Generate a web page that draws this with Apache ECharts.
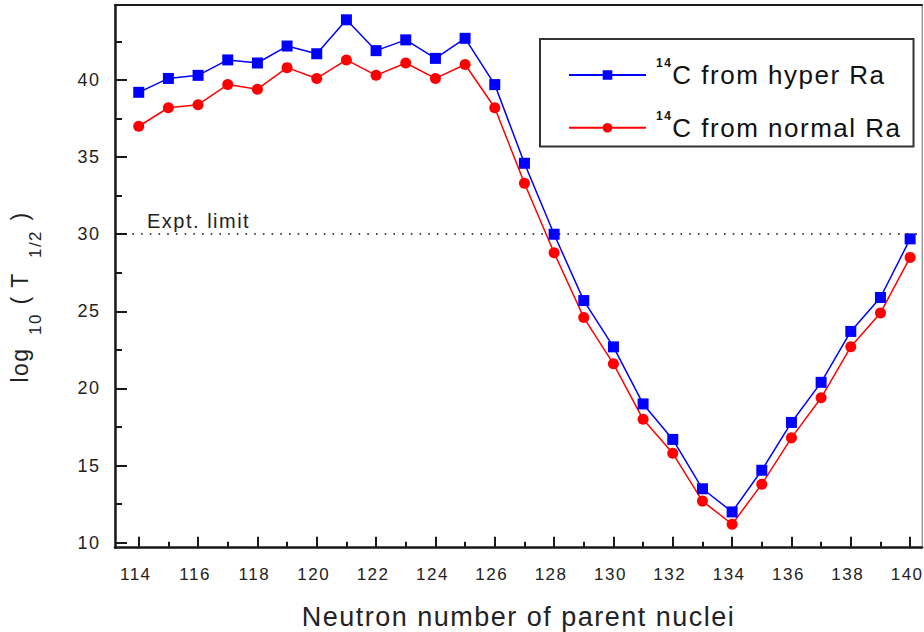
<!DOCTYPE html>
<html>
<head>
<meta charset="utf-8">
<title>14C decay half-lives of Ra isotopes</title>
<script src="https://cdn.jsdelivr.net/npm/echarts@6/dist/echarts.min.js"></script>
<style>
  html, body { margin: 0; padding: 0; background: #ffffff; }
  #chart { width: 924px; height: 632px; }
  #chart text { letter-spacing: 1.5px; }
</style>
</head>
<body>
<div id="chart"></div>
<script>
// Neutron number of the parent nucleus
const neutronNumbers = [114, 115, 116, 117, 118, 119, 120, 121, 122, 123, 124, 125, 126,
                        127, 128, 129, 130, 131, 132, 133, 134, 135, 136, 137, 138, 139, 140];
// log10(T1/2) for 14C emission from hyper Ra
const hyperRa = [39.2, 40.1, 40.3, 41.3, 41.1, 42.2, 41.7, 43.9, 41.9, 42.6, 41.4, 42.7, 39.7,
                 34.6, 30.0, 25.7, 22.7, 19.0, 16.7, 13.5, 12.0, 14.7, 17.8, 20.4, 23.7, 25.9, 29.7];
// log10(T1/2) for 14C emission from normal Ra
const normalRa = [37.0, 38.2, 38.4, 39.7, 39.4, 40.8, 40.1, 41.3, 40.3, 41.1, 40.1, 41.0, 38.2,
                  33.3, 28.8, 24.6, 21.6, 18.0, 15.8, 12.7, 11.2, 13.8, 16.8, 19.4, 22.7, 24.9, 28.5];
// Tick positions
const xMajorTicks = [114, 116, 118, 120, 122, 124, 126, 128, 130, 132, 134, 136, 138, 140];
const xMinorTicks = [115, 117, 119, 121, 123, 125, 127, 129, 131, 133, 135, 137, 139];
const yMajorTicks = [10, 15, 20, 25, 30, 35, 40];
const yMinorTicks = [12.5, 17.5, 22.5, 27.5, 32.5, 37.5, 42.5];
// Experimental limit of log10(T1/2)
const exptLimit = 30;
const seriesNames = ['14C from hyper Ra', '14C from normal Ra'];

const LETTER_SPACING = 1.5;
// Measure text with the same letter spacing the stylesheet applies to the SVG text
(function () {
  const ctx = document.createElement('canvas').getContext('2d');
  if (ctx && 'letterSpacing' in ctx && typeof echarts.setPlatformAPI === 'function') {
    ctx.letterSpacing = LETTER_SPACING + 'px';
    echarts.setPlatformAPI({
      measureText: function (text, font) {
        ctx.font = font || '12px sans-serif';
        return ctx.measureText(text);
      }
    });
  }
})();

const FONT = 'Liberation Sans';
const INK = '#1a1a1a';
const TEXT = '#222222';
const X_MIN = 113.2, X_MAX = 140.4;
const Y_MIN = 9.68, Y_MAX = 44.86;

const chart = echarts.init(document.getElementById('chart'), null, { renderer: 'svg' });

const toPoints = (ys) => neutronNumbers.map((n, i) => [n, ys[i]]);

function frameAxis(extra) {
  return Object.assign({
    type: 'value',
    splitLine: { show: false },
    axisLabel: { show: false },
    axisTick: { show: false },
    axisLine: { show: false }
  }, extra);
}

const option = {
  animation: false,
  backgroundColor: '#ffffff',
  grid: {
    left: 115, top: 5, width: 807, height: 542.7,
    outerBoundsMode: 'none', containLabel: false,
    show: true, borderColor: '#9a9a9a', borderWidth: 1
  },
  xAxis: [
    frameAxis({
      min: X_MIN, max: X_MAX, position: 'bottom',
      axisLine: { show: true, onZero: false, lineStyle: { color: INK, width: 2.5 } },
      axisTick: { show: true, inside: true, length: 11, customValues: xMajorTicks,
                  lineStyle: { color: INK, width: 2 } },
      axisLabel: {
        show: true, customValues: xMajorTicks, margin: 18,
        fontSize: 17, fontFamily: FONT, color: TEXT,
        // numbers sit a little left of their ticks
        formatter: (v) => '{v|' + v + '}',
        rich: { v: { fontSize: 17, fontFamily: FONT, color: TEXT, padding: [0, 6, 0, 0] } }
      },
      name: 'Neutron number of parent nuclei',
      nameLocation: 'middle', nameGap: 55,
      nameTextStyle: { fontSize: 27, fontFamily: FONT, color: TEXT }
    }),
    frameAxis({
      min: X_MIN, max: X_MAX, position: 'bottom',
      axisTick: { show: true, inside: true, length: 6, customValues: xMinorTicks,
                  lineStyle: { color: INK, width: 2 } }
    }),
    frameAxis({
      min: X_MIN, max: X_MAX, position: 'top',
      axisLine: { show: true, onZero: false, lineStyle: { color: INK, width: 2 } }
    })
  ],
  yAxis: [
    frameAxis({
      min: Y_MIN, max: Y_MAX, position: 'left',
      axisLine: { show: true, onZero: false, lineStyle: { color: INK, width: 2.5 } },
      axisTick: { show: true, inside: true, length: 12, customValues: yMajorTicks,
                  lineStyle: { color: INK, width: 2 } },
      axisLabel: { show: true, customValues: yMajorTicks, margin: 14.5,
                   fontSize: 18, fontFamily: FONT, color: TEXT }
    }),
    frameAxis({
      min: Y_MIN, max: Y_MAX, position: 'left',
      axisTick: { show: true, inside: true, length: 7, customValues: yMinorTicks,
                  lineStyle: { color: INK, width: 2 } }
    }),
    frameAxis({
      min: Y_MIN, max: Y_MAX, position: 'right',
      axisLine: { show: true, onZero: false, lineStyle: { color: '#9a9a9a', width: 1 } }
    })
  ],
  legend: {
    left: 540, top: 39,
    orient: 'vertical', align: 'left',
    padding: [17, 12, 5, 28],
    itemGap: 20, itemWidth: 77, itemHeight: 12,
    borderColor: '#333333', borderWidth: 2, backgroundColor: '#ffffff',
    selectedMode: false,
    data: seriesNames,
    formatter: (name) => '{s|' + name.slice(0, 2) + '}{t|' + name.slice(2) + '}',
    textStyle: {
      fontFamily: FONT, color: '#111111',
      rich: {
        s: { fontSize: 12, fontWeight: 'bold', lineHeight: 12, verticalAlign: 'top',
             padding: [0, 0, 0, 5], fontFamily: FONT, color: '#111111' },
        t: { fontSize: 26, lineHeight: 38, fontFamily: FONT, color: '#111111' }
      }
    }
  },
  graphic: [
    // y-axis title: log10 ( T1/2 ), reading bottom to top
    { type: 'text', x: 19.5, y: 365, rotation: Math.PI / 2, silent: true,
      style: { text: 'log', font: '23px ' + FONT, fill: TEXT, align: 'center', verticalAlign: 'middle' } },
    { type: 'text', x: 35.5, y: 324, rotation: Math.PI / 2, silent: true,
      style: { text: '10', font: '17px ' + FONT, fill: TEXT, align: 'center', verticalAlign: 'middle' } },
    { type: 'text', x: 19.5, y: 300, rotation: Math.PI / 2, silent: true,
      style: { text: '(', font: '23px ' + FONT, fill: TEXT, align: 'center', verticalAlign: 'middle' } },
    { type: 'text', x: 19.5, y: 280, rotation: Math.PI / 2, silent: true,
      style: { text: 'T', font: '23px ' + FONT, fill: TEXT, align: 'center', verticalAlign: 'middle' } },
    { type: 'text', x: 35.5, y: 244, rotation: Math.PI / 2, silent: true,
      style: { text: '1/2', font: '17px ' + FONT, fill: TEXT, align: 'center', verticalAlign: 'middle' } },
    { type: 'text', x: 19.5, y: 216, rotation: Math.PI / 2, silent: true,
      style: { text: ')', font: '23px ' + FONT, fill: TEXT, align: 'center', verticalAlign: 'middle' } }
  ],
  series: [
    {
      name: seriesNames[0], type: 'line',
      xAxisIndex: 0, yAxisIndex: 0,
      data: toPoints(hyperRa),
      symbol: 'rect', symbolSize: 11,
      lineStyle: { color: '#0000ff', width: 1.5 },
      itemStyle: { color: '#0000ff' },
      z: 3,
      markLine: {
        silent: true,
        symbol: ['none', 'none'],
        data: [{ yAxis: exptLimit }],
        lineStyle: { color: '#111111', type: [1.6, 7.1], width: 1.6 },
        label: {
          show: true, position: 'insideStartTop', formatter: 'Expt. limit',
          fontSize: 20, lineHeight: 16, fontFamily: FONT, color: TEXT,
          padding: [0, 0, 0, 27]
        }
      }
    },
    {
      name: seriesNames[1], type: 'line',
      xAxisIndex: 0, yAxisIndex: 0,
      data: toPoints(normalRa),
      symbol: 'circle', symbolSize: 11,
      lineStyle: { color: '#ff0000', width: 1.5 },
      itemStyle: { color: '#ff0000' },
      z: 2
    }
  ]
};

chart.setOption(option);
</script>
</body>
</html>
